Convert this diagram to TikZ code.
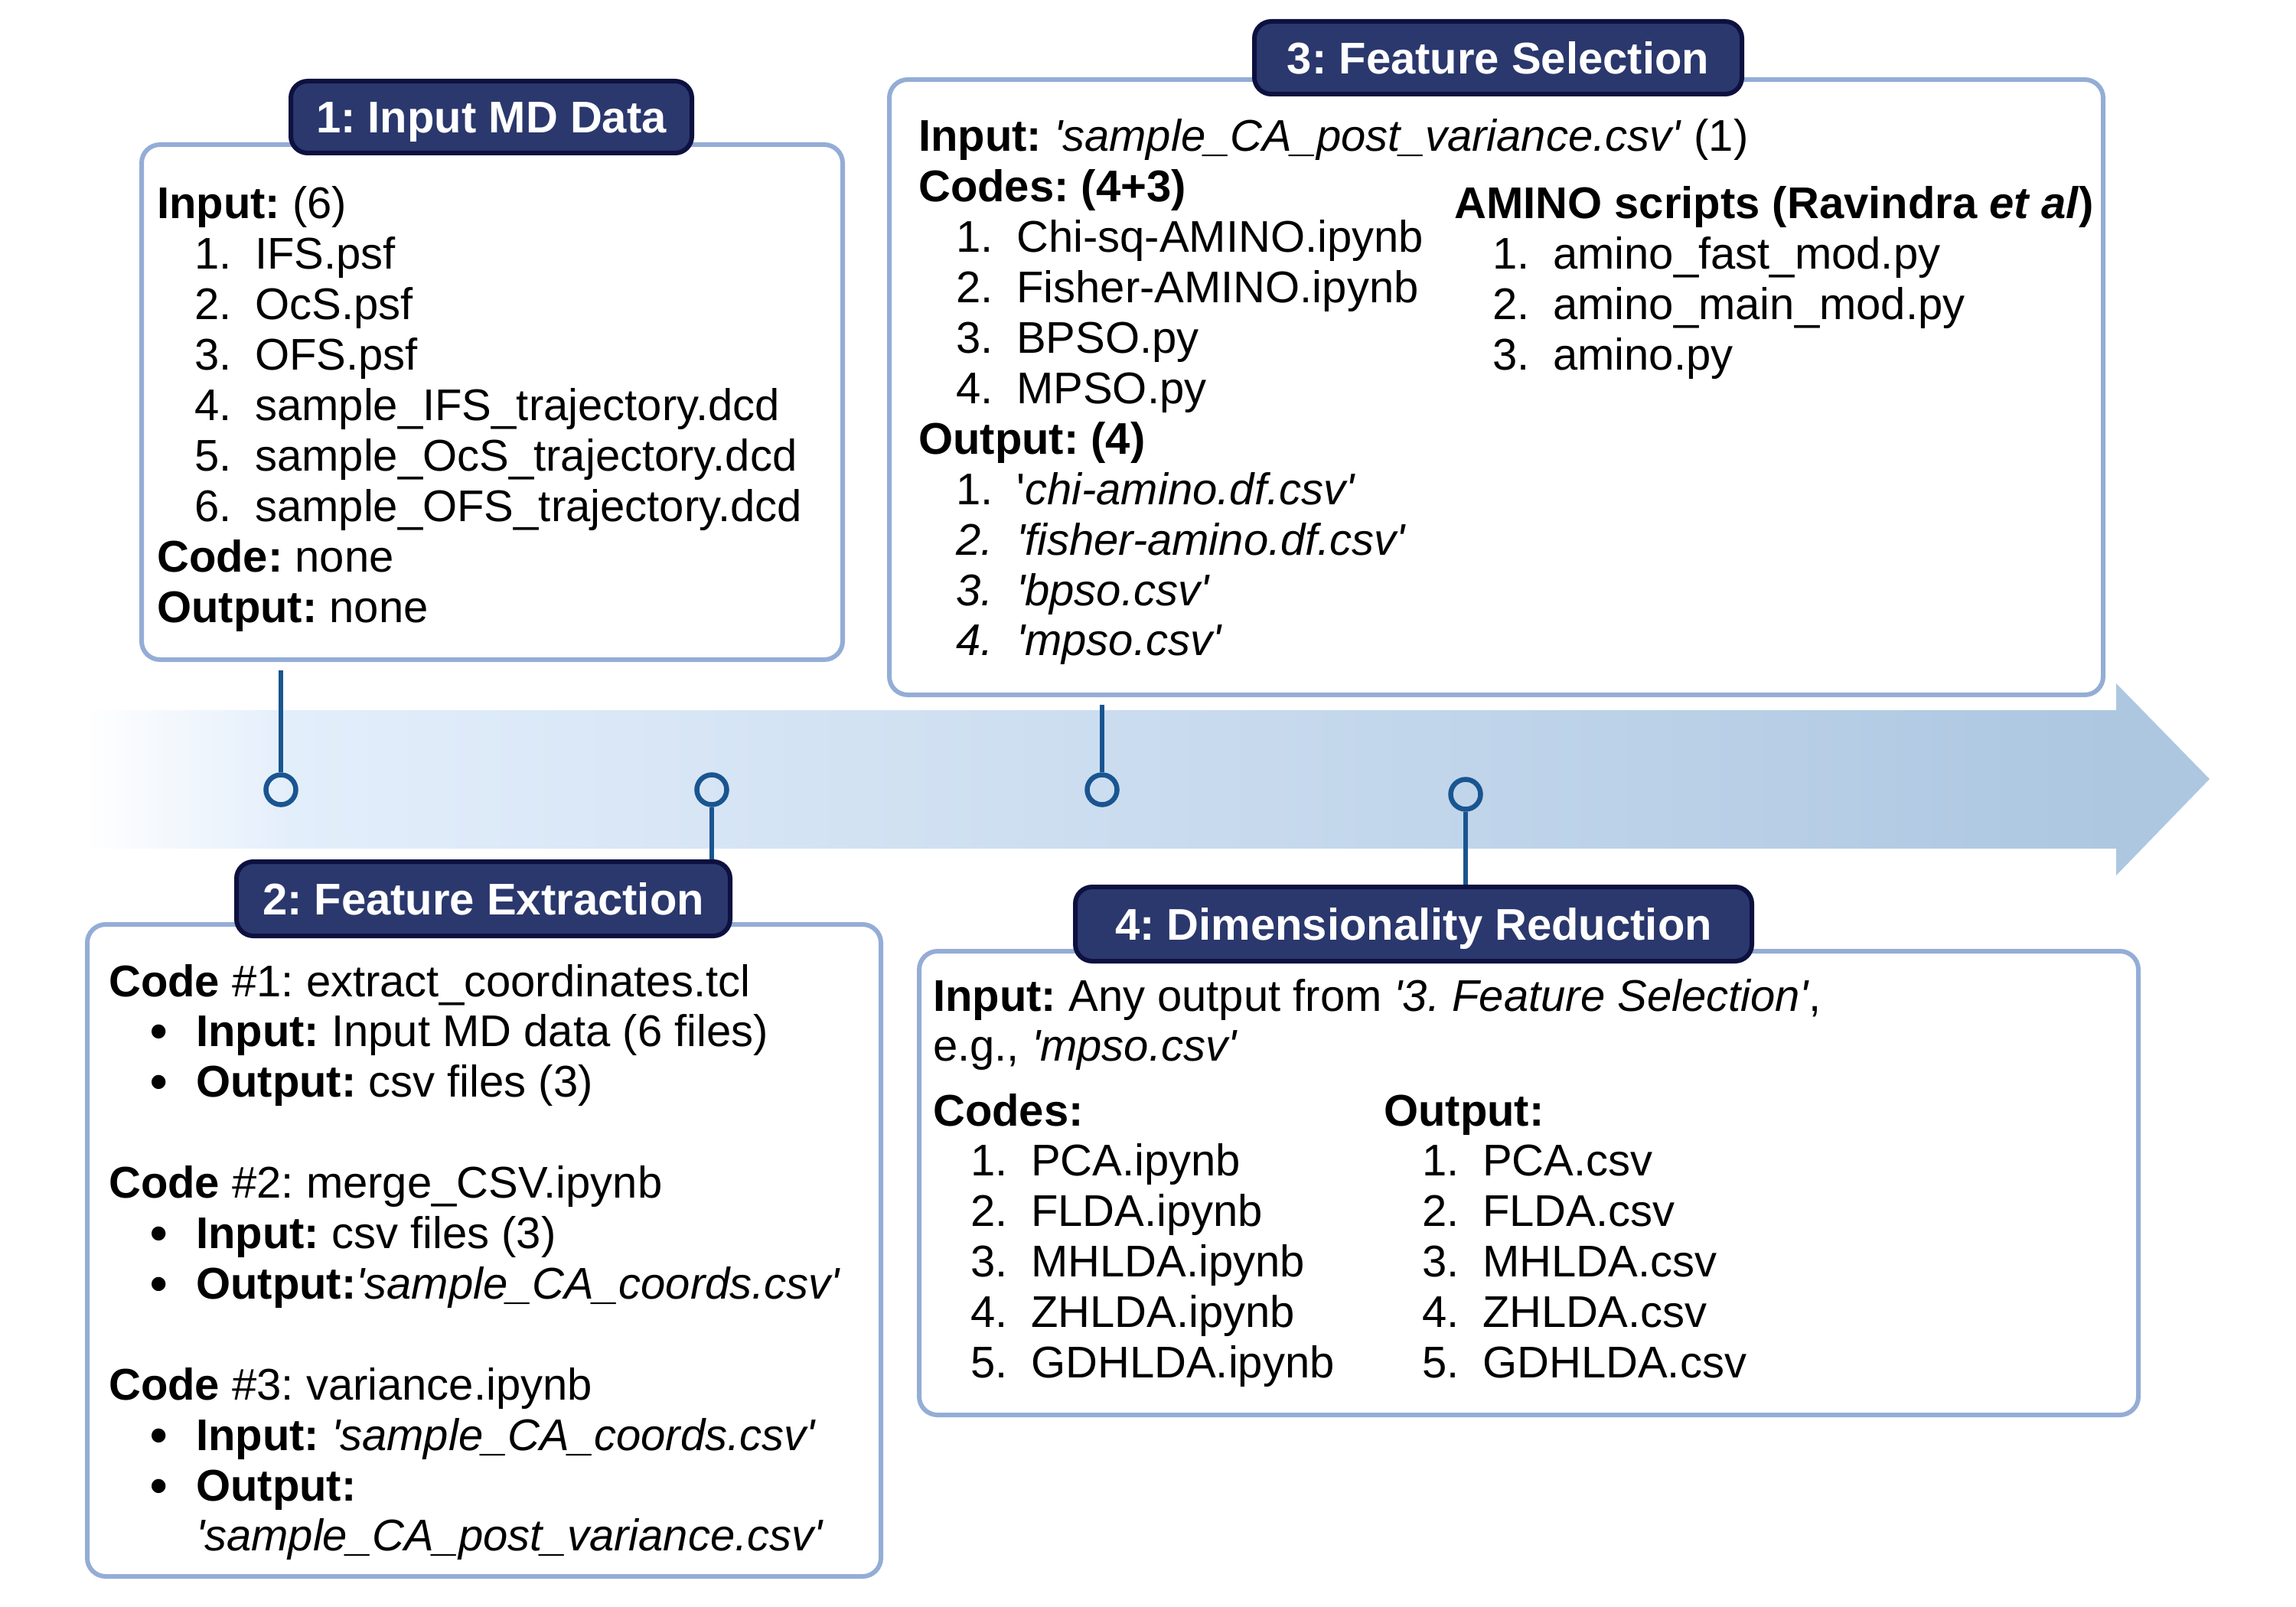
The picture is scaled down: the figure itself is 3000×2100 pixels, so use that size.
\documentclass[tikz,border=0pt]{standalone}
\usepackage{fontspec}
\setmainfont{Liberation Sans}
\definecolor{panelc}{HTML}{94ADD6}
\definecolor{ttlfill}{HTML}{2B386D}
\definecolor{ttldraw}{HTML}{0D1140}
\definecolor{pinc}{HTML}{1A5590}
\definecolor{arrA}{HTML}{E3EEFB}
\definecolor{arrB}{HTML}{ADC7E1}
\newcommand{\bodyfont}{\fontsize{58}{65.9}\selectfont\frenchspacing}
\newcommand{\sq}{\textquotesingle}
\newcommand{\nitem}[3]{\hbox{\hspace*{#1}\makebox[79pt][l]{#2}#3}}
\newcommand{\bigbul}{\smash{\raisebox{-2pt}{\fontsize{64}{64}\selectfont\bfseries\textbullet}}}
\newcommand{\bitem}[1]{\hbox{\hspace*{54pt}\makebox[60pt][l]{\bigbul}#1}}
\newcommand{\contline}[1]{\hbox{\hspace*{114pt}#1}}
\tikzset{
  panel/.style={draw=panelc, line width=6pt, rounded corners=24pt, fill=white, inner sep=0pt},
  ttl/.style={draw=ttldraw, fill=ttlfill, line width=6pt, rounded corners=22pt, text=white,
    font=\fontsize{58}{66}\selectfont\bfseries\frenchspacing, text height=42pt, text depth=0pt, inner sep=0pt},
  pinring/.style={circle, draw=pinc, line width=6.5pt, minimum size=39pt, inner sep=0pt},
  pinline/.style={draw=pinc, line width=6.5pt},
  txt/.style={anchor=base west, inner sep=0pt, font=\bodyfont},
}
\begin{document}
\begin{tikzpicture}[x=1pt, y=-1pt]
\useasboundingbox (0,0) rectangle (3000,2100);

% timeline arrow
\shade[left color=white, right color=arrA] (110,928) rectangle (381,1108);
\shade[left color=arrA, right color=arrB] (380,928) rectangle (2766,1108);
\fill[arrB] (2765,893) -- (2887,1018) -- (2765,1144) -- cycle;

% panels
\node[panel, minimum width=916pt, minimum height=673pt] (b1) at (643,525.5) {};
\node[panel, minimum width=1037pt, minimum height=852pt] (b2) at (632.5,1634) {};
\node[panel, minimum width=1586pt, minimum height=804pt] (b3) at (1955,506) {};
\node[panel, minimum width=1593pt, minimum height=606pt] (b4) at (1997.5,1546) {};

% titles
\node[ttl, minimum width=524pt, minimum height=94pt] (t1) at (642,153) {1: Input MD Data};
\node[ttl, minimum width=645pt, minimum height=97pt] (t2) at (631.5,1174.5) {2: Feature Extraction};
\node[ttl, minimum width=637pt, minimum height=95pt] (t3) at (1957.5,75.5) {3: Feature Selection};
\node[ttl, minimum width=884pt, minimum height=97pt] (t4) at (1847,1207.5) {4: Dimensionality Reduction};

% pins
\node[pinring] (c1) at (367,1032) {};
\node[pinring] (c2) at (930,1032) {};
\node[pinring] (c3) at (1440,1032) {};
\node[pinring] (c4) at (1915,1038) {};
\draw[pinline, shorten >=11pt] (c1.north) -- (c1.north |- b1.south);
\draw[pinline] (c2.south) -- (c2.south |- t2.north);
\draw[pinline, shorten >=10pt] (c3.north) -- (c3.north |- b3.south);
\draw[pinline] (c4.south) -- (c4.south |- t4.north);

% box 1 text
\node[txt] (x1) at (205,286) {\vtop{%
  \hbox{\textbf{Input:} (6)}
  \nitem{49pt}{1.}{IFS.psf}
  \nitem{49pt}{2.}{OcS.psf}
  \nitem{49pt}{3.}{OFS.psf}
  \nitem{49pt}{4.}{sample\_IFS\_trajectory.dcd}
  \nitem{49pt}{5.}{sample\_OcS\_trajectory.dcd}
  \nitem{49pt}{6.}{sample\_OFS\_trajectory.dcd}
  \hbox{\textbf{Code:} none}
  \hbox{\textbf{Output:} none}}};

% box 2 text
\node[txt] (x2) at (142,1302) {\vtop{%
  \hbox{\textbf{Code} \#1: extract\_coordinates.tcl}
  \bitem{\textbf{Input:} Input MD data (6 files)}
  \bitem{\textbf{Output:} csv files (3)}
  \hbox{}
  \hbox{\textbf{Code} \#2: merge\_CSV.ipynb}
  \bitem{\textbf{Input:} csv files (3)}
  \bitem{\textbf{Output:}\textit{\sq sample\_CA\_coords.csv\sq}}
  \hbox{}
  \hbox{\textbf{Code} \#3: variance.ipynb}
  \bitem{\textbf{Input:} \textit{\sq sample\_CA\_coords.csv\sq}}
  \bitem{\textbf{Output:}}
  \contline{\textit{\sq sample\_CA\_post\_variance.csv\sq}}}};

% box 3 text
\node[txt] (x3) at (1200,198) {\vtop{%
  \hbox{\textbf{Input:} \textit{\sq sample\_CA\_post\_variance.csv\sq} (1)}
  \hbox{\textbf{Codes: (4+3)}}
  \nitem{49pt}{1.}{Chi-sq-AMINO.ipynb}
  \nitem{49pt}{2.}{Fisher-AMINO.ipynb}
  \nitem{49pt}{3.}{BPSO.py}
  \nitem{49pt}{4.}{MPSO.py}
  \hbox{\textbf{Output: (4)}}
  \nitem{49pt}{1.}{\sq\textit{chi-amino.df.csv\sq}}
  \nitem{49pt}{\itshape 2.}{\textit{\sq fisher-amino.df.csv\sq}}
  \nitem{49pt}{\itshape 3.}{\textit{\sq bpso.csv\sq}}
  \nitem{49pt}{\itshape 4.}{\textit{\sq mpso.csv\sq}}}};
\node[txt] (x3b) at (1900,286) {\vtop{%
  \hbox{\textbf{AMINO scripts (Ravindra \textit{et al})}}
  \nitem{50pt}{1.}{amino\_fast\_mod.py}
  \nitem{50pt}{2.}{amino\_main\_mod.py}
  \nitem{50pt}{3.}{amino.py}}};

% box 4 text
\node[txt] (x4) at (1219,1321) {\vtop{%
  \hbox{\textbf{Input:} Any output from \textit{\sq 3. Feature Selection\sq},}
  \hbox{e.g., \textit{\sq mpso.csv\sq}}}};
\node[txt] (x4b) at (1219,1471) {\vtop{%
  \hbox{\textbf{Codes:}}
  \nitem{49pt}{1.}{PCA.ipynb}
  \nitem{49pt}{2.}{FLDA.ipynb}
  \nitem{49pt}{3.}{MHLDA.ipynb}
  \nitem{49pt}{4.}{ZHLDA.ipynb}
  \nitem{49pt}{5.}{GDHLDA.ipynb}}};
\node[txt] (x4c) at (1808,1471) {\vtop{%
  \hbox{\textbf{Output:}}
  \nitem{50pt}{1.}{PCA.csv}
  \nitem{50pt}{2.}{FLDA.csv}
  \nitem{50pt}{3.}{MHLDA.csv}
  \nitem{50pt}{4.}{ZHLDA.csv}
  \nitem{50pt}{5.}{GDHLDA.csv}}};
\end{tikzpicture}
\end{document}
